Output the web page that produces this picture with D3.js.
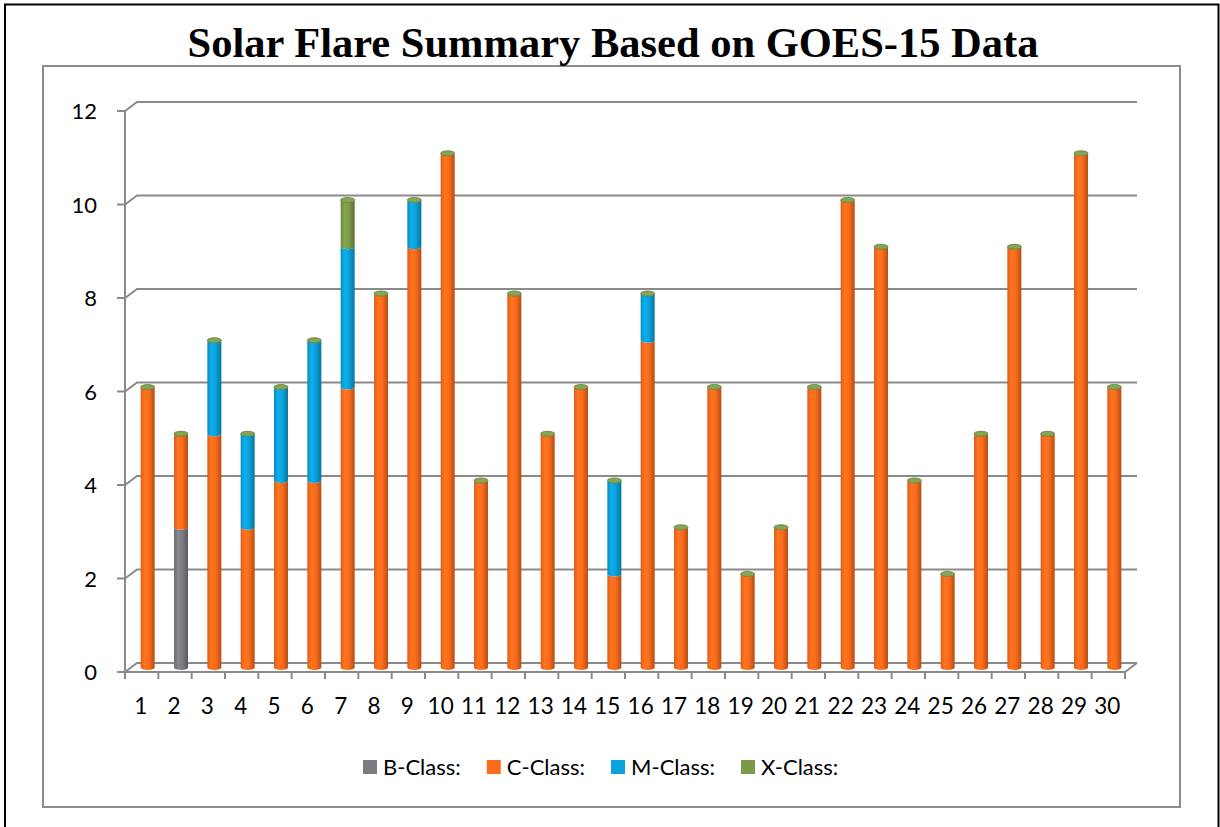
<!DOCTYPE html>
<html>
<head>
<meta charset="utf-8">
<script src="https://d3js.org/d3.v7.min.js"></script>
<style>
html,body{margin:0;padding:0;background:#fff;}
svg{display:block;}
</style>
</head>
<body>
<svg id="chart" width="1220" height="827"></svg>
<script>
// ---- data ----
const days = d3.range(1, 31).map(String);
const bClass = [0,3,0,0,0,0,0,0,0,0, 0,0,0,0,0,0,0,0,0,0, 0,0,0,0,0,0,0,0,0,0];
const cClass = [6,2,5,3,4,4,6,8,9,11, 4,8,5,6,2,7,3,6,2,3, 6,10,9,4,2,5,9,5,11,6];
const mClass = [0,0,2,2,2,3,3,0,1,0, 0,0,0,0,2,1,0,0,0,0, 0,0,0,0,0,0,0,0,0,0];
const xClass = [0,0,0,0,0,0,1,0,0,0, 0,0,0,0,0,0,0,0,0,0, 0,0,0,0,0,0,0,0,0,0];
const seriesNames = ["B-Class:", "C-Class:", "M-Class:", "X-Class:"];
const seriesColors = ["#7b7c81", "#fb6b1c", "#0ba1da", "#7b9a48"];
const yTicks = [0, 2, 4, 6, 8, 10, 12];
const title = "Solar Flare Summary Based on GOES-15 Data";

// ---- layout ----
const svg = d3.select("#chart");
const axisLeft = 125, axisRight = 1125, baseY = 672, topY = 111;
const depthX = 12, depthY = -9;
const labelFont = "Lato, 'Open Sans', sans-serif";

// outer frame
svg.append("path").attr("d", "M5,835 L5,4.5 L1218.5,4.5 L1218.5,835")
  .attr("fill", "none").attr("stroke", "#000").attr("stroke-width", 2);
// chart area
svg.append("rect").attr("x", 43).attr("y", 66).attr("width", 1137).attr("height", 741)
  .attr("fill", "#fff").attr("stroke", "#8c8c8c").attr("stroke-width", 2);

// title
svg.append("text").attr("x", 613).attr("y", 57).attr("text-anchor", "middle")
  .attr("font-family", "'Liberation Serif', 'Times New Roman', serif")
  .attr("font-weight", "bold").attr("font-size", 42.5).attr("fill", "#000")
  .text(title);

// scales
const y = d3.scaleLinear().domain([0, 12]).range([baseY, topY]);
const x = d3.scaleBand().domain(days).range([axisLeft, axisRight])
  .paddingInner(0.58).paddingOuter(0.29);
const xStep = x.step();

const grid = svg.append("g").attr("stroke", "#8a8a8a").attr("stroke-width", 2).attr("fill", "none");
// back-wall gridlines with side-wall diagonals
yTicks.forEach(v => {
  const yf = y(v);
  grid.append("path").attr("d",
    `M${axisLeft - 8},${yf} L${axisLeft},${yf} L${axisLeft + depthX},${yf + depthY} L${axisRight + depthX},${yf + depthY}`);
});
// vertical axis line
grid.append("line").attr("x1", axisLeft).attr("x2", axisLeft).attr("y1", y(12)).attr("y2", y(0) + 7);
// floor front edge + right diagonal
grid.append("path").attr("d",
  `M${axisLeft},${baseY} L${axisRight},${baseY} L${axisRight + depthX},${baseY + depthY}`);
// x ticks
d3.range(0, days.length + 1).forEach(i => {
  const xx = axisLeft + i * xStep;
  grid.append("line").attr("x1", xx).attr("x2", xx).attr("y1", baseY).attr("y2", baseY + 7);
});

// y labels
svg.append("g").selectAll("text").data(yTicks).join("text")
  .attr("x", 97).attr("y", d => y(d) + 8).attr("text-anchor", "end")
  .attr("font-family", labelFont).attr("font-size", 22).attr("fill", "#000")
  .text(d => d);
// x labels
svg.append("g").selectAll("text").data(days).join("text")
  .attr("x", d => x(d) + x.bandwidth() / 2 - 1).attr("y", 714).attr("text-anchor", "middle")
  .attr("font-family", labelFont).attr("font-size", 22.5).attr("fill", "#000")
  .text(d => d);

// gradients for cylinders
const defs = svg.append("defs");
seriesColors.forEach((c, i) => {
  const base = d3.color(c);
  const g = defs.append("linearGradient").attr("id", "cyl" + i)
    .attr("x1", "0%").attr("x2", "100%").attr("y1", "0%").attr("y2", "0%");
  g.append("stop").attr("offset", "0%").attr("stop-color", base.darker(0.35));
  g.append("stop").attr("offset", "30%").attr("stop-color", base.brighter(0.25));
  g.append("stop").attr("offset", "60%").attr("stop-color", base);
  g.append("stop").attr("offset", "100%").attr("stop-color", base.darker(0.9));
});

// stacked data
const table = days.map((d, i) => ({day: d, b: bClass[i], c: cClass[i], m: mClass[i], x: xClass[i]}));
const stack = d3.stack().keys(["b", "c", "m", "x"])(table);
const yb = v => y(v) - 4.5; // bars sit at mid-depth
const rx = x.bandwidth() / 2, ry = 2.5;
const shift = depthX / 2;

const bars = svg.append("g");
stack.forEach((layer, si) => {
  layer.forEach((seg, di) => {
    if (seg[1] - seg[0] <= 0) return;
    const x0 = x(days[di]) + shift, x1 = x0 + x.bandwidth();
    const yt = yb(seg[1]), ybt = yb(seg[0]);
    bars.append("path")
      .attr("d", `M${x0},${yt} L${x0},${ybt} A${rx},${ry} 0 0 0 ${x1},${ybt} L${x1},${yt} A${rx},${ry} 0 0 1 ${x0},${yt} Z`)
      .attr("fill", `url(#cyl${si})`);
  });
});
// top caps (zero-height last series in 3D cylinder)
table.forEach((d, di) => {
  const total = d.b + d.c + d.m + d.x;
  const cx = x(d.day) + shift + rx;
  bars.append("ellipse").attr("cx", cx).attr("cy", yb(total)).attr("rx", rx).attr("ry", ry)
    .attr("fill", "#86a556").attr("stroke", "#5f7d35").attr("stroke-width", 0.8);
});

// legend
const legend = svg.append("g");
let lx = 363;
seriesNames.forEach((name, i) => {
  legend.append("rect").attr("x", lx).attr("y", 760).attr("width", 14).attr("height", 14)
    .attr("fill", seriesColors[i]);
  const t = legend.append("text").attr("x", lx + 20).attr("y", 775)
    .attr("font-family", labelFont).attr("font-size", 22).attr("fill", "#000").text(name);
  lx += 20 + t.node().getComputedTextLength() + 26;
});
</script>
</body>
</html>
